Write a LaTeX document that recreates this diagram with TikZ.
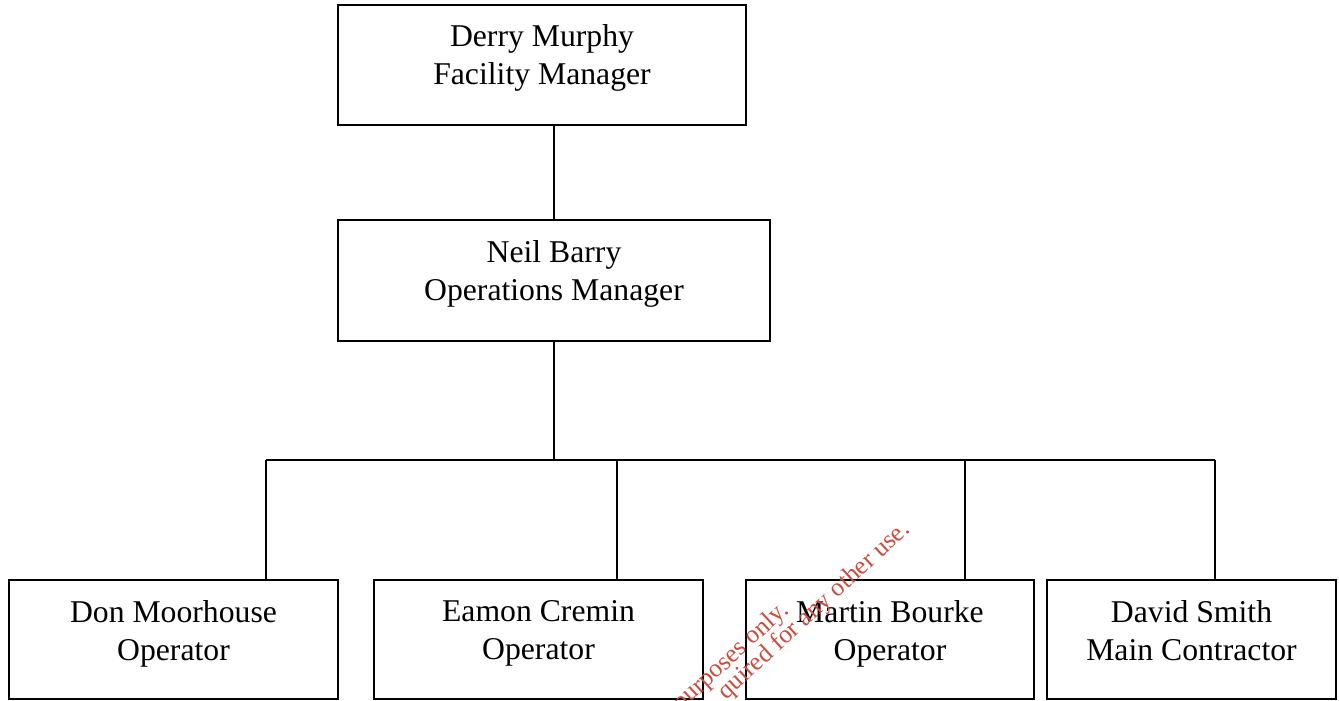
\documentclass[tikz,border=0pt]{standalone}
\usepackage{fontspec}
\setmainfont{Liberation Serif}
\definecolor{wmred}{RGB}{205,75,60}
\tikzset{
  box/.style={draw=black, line width=1.8pt, inner sep=0pt, fill=none},
  txt/.style={inner sep=0pt, align=center, font=\fontsize{31.7}{38.5}\selectfont, anchor=north},
  conn/.style={draw=black, line width=1.8pt},
  wm/.style={inner sep=0pt, text=wmred, font=\fontsize{25.5}{29}\selectfont, rotate=42.5, anchor=base east}
}
\begin{document}
\begin{tikzpicture}[x=1pt,y=-1pt]
\useasboundingbox (0,0) rectangle (1339,701);
% boxes
\node[box, minimum width=408pt, minimum height=120pt] (dm) at (542,65) {};
\node[box, minimum width=432pt, minimum height=121pt] (nb) at (554,280.5) {};
\node[box, minimum width=329pt, minimum height=119pt] (d1) at (173.5,639.5) {};
\node[box, minimum width=329pt, minimum height=119pt] (d2) at (538.5,639.5) {};
\node[box, minimum width=288pt, minimum height=119pt] (d3) at (890,639.5) {};
\node[box, minimum width=289pt, minimum height=119pt] (d4) at (1191.5,639.5) {};
% texts
\node[txt] (dmt) at ([yshift=-20pt]dm.north) {Derry Murphy\\Facility Manager};
\node[txt] (nbt) at ([yshift=-21pt]nb.north) {Neil Barry\\Operations Manager};
\node[txt] (d1t) at ([yshift=-21pt]d1.north) {Don Moorhouse\\Operator};
\node[txt] (d2t) at ([yshift=-21pt]d2.north) {Eamon Cremin\\Operator};
\node[txt] (d3t) at ([yshift=-21pt]d3.north) {Martin Bourke\\Operator};
\node[txt] (d4t) at ([yshift=-21pt]d4.north) {David Smith\\Main Contractor};
% connectors
\coordinate (j) at (554,460);
\coordinate (b1) at (266,460);
\coordinate (b2) at (617,460);
\coordinate (b3) at (965,460);
\coordinate (b4) at (1215,460);
\draw[conn] (nb.north) -- (nb.north |- dm.south);
\draw[conn] (nb.south) -- (j);
\draw[conn] (b1) -- (b4);
\draw[conn] (b1) -- (b1 |- d1.north);
\draw[conn] (b2) -- (b2 |- d2.north);
\draw[conn] (b3) -- (b3 |- d3.north);
\draw[conn] (b4) -- (b4 |- d4.north);
% watermark
\node[wm] (wm1) at (790,612) {purposes only.};
\node[wm] (wm2) at (911,531) {quired for any other use.};
\end{tikzpicture}
\end{document}
